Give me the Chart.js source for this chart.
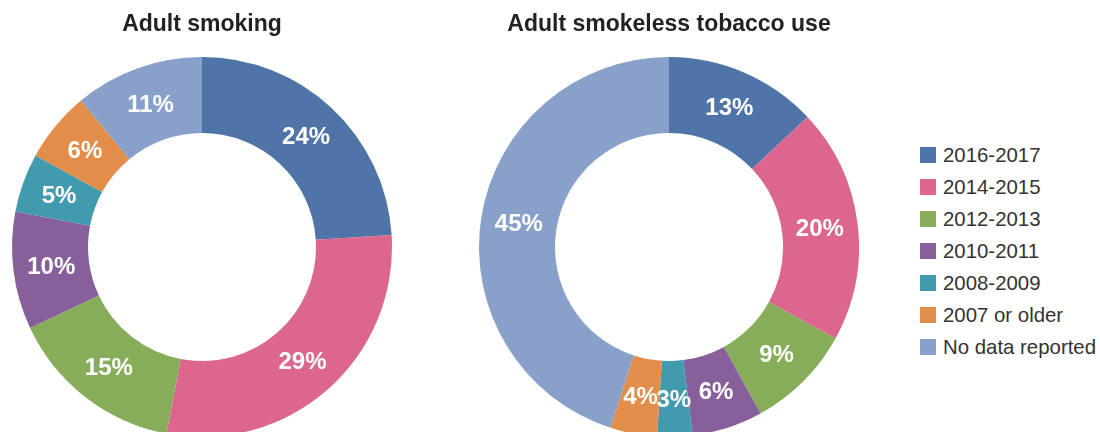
<!DOCTYPE html>
<html>
<head>
<meta charset="utf-8">
<script src="https://cdn.jsdelivr.net/npm/chart.js@4"></script>
<style>
  html, body { margin: 0; padding: 0; background: #fff; }
  body { width: 1100px; height: 432px; position: relative; overflow: hidden; }
  #smokingChart { position: absolute; left: 0; top: 0; }
  #smokelessChart { position: absolute; left: 479px; top: 0; }
  #legend { position: absolute; left: 920px; top: 139px; font: 20.4px "Liberation Sans", Arial, sans-serif; color: #333; }
  .row { height: 32px; display: flex; align-items: center; }
  .box { width: 16px; height: 16px; margin-right: 7px; }
</style>
</head>
<body>
<canvas id="smokingChart" width="404" height="437" style="width:404px;height:437px"></canvas>
<canvas id="smokelessChart" width="380" height="437" style="width:380px;height:437px"></canvas>
<div id="legend"></div>
<script>
var categories = ["2016-2017", "2014-2015", "2012-2013", "2010-2011", "2008-2009", "2007 or older", "No data reported"];
var smokingValues = [24, 29, 15, 10, 5, 6, 11];
var smokelessValues = [13, 20, 9, 6, 3, 4, 45];
var colors = ["#4e74a8", "#dc668e", "#87ad5a", "#865f9b", "#429aaf", "#e28e4a", "#89a0ca"];

// white percent labels in the middle of each slice
var pctLabels = {
    id: "pctLabels",
    afterDatasetsDraw: function (chart) {
        var ctx = chart.ctx;
        var values = chart.data.datasets[0].data;
        chart.getDatasetMeta(0).data.forEach(function (arc, i) {
            var p = arc.tooltipPosition();
            ctx.save();
            ctx.font = 'bold 24px "Liberation Sans", Arial, sans-serif';
            ctx.fillStyle = "#ffffff";
            ctx.textAlign = "center";
            ctx.textBaseline = "middle";
            ctx.fillText(values[i] + "%", p.x, p.y + 1);
            ctx.restore();
        });
    }
};

function makeConfig(title, values) {
    return {
        type: "doughnut",
        data: {
            labels: categories,
            datasets: [{
                data: values,
                backgroundColor: colors,
                borderWidth: 0,
                hoverOffset: 0
            }]
        },
        options: {
            responsive: false,
            animation: false,
            cutout: "60%",
            layout: { padding: 0 },
            plugins: {
                legend: { display: false },
                tooltip: { enabled: false },
                title: {
                    display: true,
                    text: title,
                    color: "#222",
                    font: { family: '"Liberation Sans", Arial, sans-serif', size: 23, weight: "bold" },
                    padding: { top: 11, bottom: 18.4 }
                }
            }
        },
        plugins: [pctLabels]
    };
}

var smokingChart = new Chart(document.getElementById("smokingChart"), makeConfig("Adult smoking", smokingValues));
var smokelessChart = new Chart(document.getElementById("smokelessChart"), makeConfig("Adult smokeless tobacco use", smokelessValues));

// legend built from the chart's own labels and colours
var legendEl = document.getElementById("legend");
smokelessChart.data.labels.forEach(function (label, i) {
    var row = document.createElement("div");
    row.className = "row";
    var box = document.createElement("span");
    box.className = "box";
    box.style.background = smokelessChart.data.datasets[0].backgroundColor[i];
    var text = document.createElement("span");
    text.textContent = label;
    row.appendChild(box);
    row.appendChild(text);
    legendEl.appendChild(row);
});
</script>
</body>
</html>
